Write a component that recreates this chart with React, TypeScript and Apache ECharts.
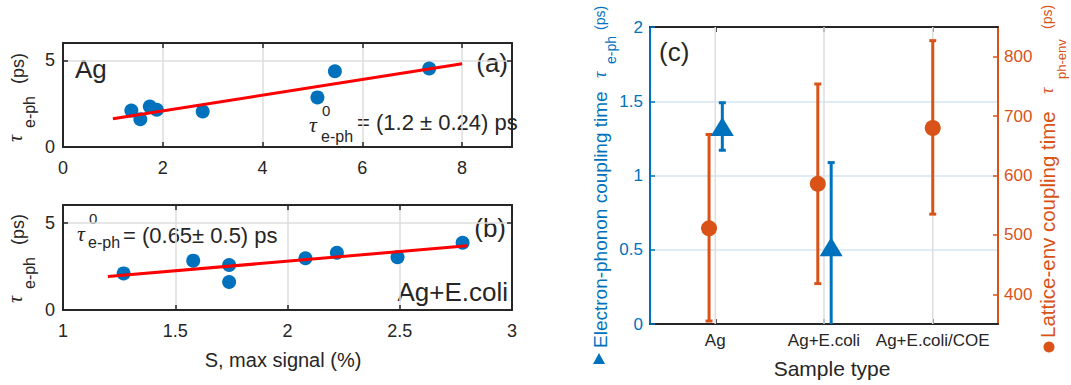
import React, { useEffect, useRef } from 'react';
import * as echarts from 'echarts';

// ---------- data ----------
const agX = [1.37, 1.55, 1.74, 1.88, 2.8, 5.1, 5.45, 7.34];
const agY = [2.1, 1.6, 2.33, 2.15, 2.05, 2.86, 4.37, 4.53];
const agFitX = [1.0, 8.0];
const agFitY = [1.63, 4.8];

const ecX = [1.27, 1.58, 1.74, 1.74, 2.08, 2.22, 2.49, 2.78];
const ecY = [2.09, 2.82, 2.57, 1.6, 2.96, 3.27, 3.02, 3.84];
const ecFitX = [1.2, 2.8];
const ecFitY = [1.91, 3.67];

const sampleTypes = ['Ag', 'Ag+E.coli', 'Ag+E.coli/COE'];
const sampleTicks = [1, 2, 3];
const ephPos = [1.065, 2.066];
const ephVal = [1.33, 0.52];
const ephLow = [1.17, -0.1];
const ephHigh = [1.49, 1.087];
const phenvPos = [0.943, 1.943, 3.0];
const phenvVal = [511, 586, 680];
const phenvLow = [355, 418, 535];
const phenvHigh = [669, 754, 827];

const ticksAX = [0, 2, 4, 6, 8];
const ticksBX = [1, 1.5, 2, 2.5, 3];
const ticksY = [0, 5];
const ticksEph = [0, 0.5, 1, 1.5, 2];
const ticksPhenv = [400, 500, 600, 700, 800];

// ---------- styles ----------
const FONT = '"Liberation Sans", Arial, Helvetica, sans-serif';
const SERIF = '"Liberation Serif", "DejaVu Serif", serif';
const DARK = '#262626';
const BLUE = '#0072BD';
const ORANGE = '#D95319';
const GRIDC = '#dedede';

function frameX(grid: number, pos: 'top' | 'bottom', min: number, max: number, interval: number, ticks: number[], labels: boolean, split: boolean) {
  return {
    type: 'value', gridIndex: grid, position: pos, min, max, interval,
    axisLine: { show: true, onZero: false, lineStyle: { color: DARK, width: 2 } },
    axisTick: { show: true, inside: true, length: 5, customValues: ticks, lineStyle: { color: DARK, width: 1.5 } },
    axisLabel: { show: labels, customValues: ticks, color: DARK, fontSize: 18, fontFamily: FONT, margin: 12 },
    splitLine: { show: split, lineStyle: { color: GRIDC, width: 1.5 } },
  };
}
function frameY(grid: number, pos: 'left' | 'right', labels: boolean, split: boolean) {
  return {
    type: 'value', gridIndex: grid, position: pos, min: 0, max: 6, interval: 5,
    axisLine: { show: true, onZero: false, lineStyle: { color: DARK, width: 2 } },
    axisTick: { show: true, inside: true, length: 5, customValues: ticksY, lineStyle: { color: DARK, width: 1.5 } },
    axisLabel: { show: labels, customValues: ticksY, color: DARK, fontSize: 18, fontFamily: FONT, margin: 8 },
    splitLine: { show: split, lineStyle: { color: GRIDC, width: 1.5 } },
  };
}

function errorBarSeries(xIdx: number, yIdx: number, pos: number[], low: number[], high: number[], color: string) {
  return {
    type: 'custom', xAxisIndex: xIdx, yAxisIndex: yIdx, clip: true, z: 3,
    data: pos.map((p, i) => [p, low[i], high[i]]),
    encode: { x: 0, y: [1, 2] },
    renderItem: (_params: any, api: any) => {
      const x = api.value(0);
      const a = api.coord([x, api.value(1)]);
      const b = api.coord([x, api.value(2)]);
      const st = { stroke: color, lineWidth: 3 };
      const c = 3.5;
      return {
        type: 'group',
        children: [
          { type: 'line', shape: { x1: a[0], y1: a[1], x2: b[0], y2: b[1] }, style: st },
          { type: 'line', shape: { x1: a[0] - c, y1: a[1], x2: a[0] + c, y2: a[1] }, style: st },
          { type: 'line', shape: { x1: b[0] - c, y1: b[1], x2: b[0] + c, y2: b[1] }, style: st },
        ],
      };
    },
  };
}

function txt(text: string, x: number, y: number, size: number, opts: any = {}) {
  const align = opts.align || 'left';
  return {
    type: 'text', x, y, silent: true,
    style: {
      text, fill: opts.color || DARK,
      font: `${opts.italic ? 'italic ' : ''}${size}px ${opts.family || FONT}`,
      textAlign: align, align, textVerticalAlign: 'middle', verticalAlign: 'middle',
    },
  };
}

function rotGroup(x: number, y: number, children: any[]) {
  return { type: 'group', x, y, rotation: Math.PI / 2, children };
}

export default function App() {
  const ref = useRef<HTMLDivElement>(null);
  useEffect(() => {
    if (!ref.current) return;
    const chart = echarts.init(ref.current, undefined, { renderer: 'svg' });
    const option: any = {
      animation: false,
      backgroundColor: '#ffffff',
      grid: [
        { left: 63, top: 43, width: 449, height: 104 },
        { left: 63, top: 205, width: 449, height: 105 },
        { left: 650, top: 27, width: 348, height: 297 },
      ],
      xAxis: [
        frameX(0, 'bottom', 0, 9, 2, ticksAX, true, true),
        frameX(0, 'top', 0, 9, 2, ticksAX, false, false),
        frameX(1, 'bottom', 1, 3, 0.5, ticksBX, true, true),
        frameX(1, 'top', 1, 3, 0.5, ticksBX, false, false),
        {
          type: 'value', gridIndex: 2, position: 'bottom', min: 0.4, max: 3.6,
          axisLine: { show: true, onZero: false, lineStyle: { color: DARK, width: 2 } },
          axisTick: { show: true, inside: true, length: 5, customValues: sampleTicks, lineStyle: { color: DARK, width: 1.5 } },
          axisLabel: {
            show: true, customValues: sampleTicks, color: DARK, fontSize: 17, fontFamily: FONT, margin: 8,
            formatter: (v: number) => sampleTypes[Math.round(v) - 1] || '',
          },
          splitLine: { show: false },
        },
        {
          type: 'value', gridIndex: 2, position: 'top', min: 0.4, max: 3.6,
          axisLine: { show: true, onZero: false, lineStyle: { color: DARK, width: 2 } },
          axisTick: { show: true, inside: true, length: 5, customValues: sampleTicks, lineStyle: { color: DARK, width: 1.5 } },
          axisLabel: { show: false },
          splitLine: { show: false },
        },
      ],
      yAxis: [
        frameY(0, 'left', true, true),
        frameY(0, 'right', false, false),
        frameY(1, 'left', true, true),
        frameY(1, 'right', false, false),
        {
          type: 'value', gridIndex: 2, position: 'left', min: 0, max: 2, interval: 0.5,
          axisLine: { show: true, onZero: false, lineStyle: { color: BLUE, width: 2 } },
          axisTick: { show: true, inside: true, length: 5, customValues: ticksEph, lineStyle: { color: BLUE, width: 1.5 } },
          axisLabel: { show: true, customValues: ticksEph, color: BLUE, fontSize: 17, fontFamily: FONT, margin: 7 },
          splitLine: { show: true, lineStyle: { color: '#d5e6f2', width: 1.5 } },
        },
        {
          type: 'value', gridIndex: 2, position: 'right', min: 350, max: 850,
          axisLine: { show: true, onZero: false, lineStyle: { color: ORANGE, width: 2 } },
          axisTick: { show: true, inside: true, length: 5, customValues: ticksPhenv, lineStyle: { color: ORANGE, width: 1.5 } },
          axisLabel: { show: true, customValues: ticksPhenv, color: ORANGE, fontSize: 17, fontFamily: FONT, margin: 6 },
          splitLine: { show: false },
        },
      ],
      series: [
        // panel (a)
        {
          type: 'line', xAxisIndex: 0, yAxisIndex: 0, z: 3, symbol: 'none',
          data: agFitX.map((x, i) => [x, agFitY[i]]),
          lineStyle: { color: '#ff0000', width: 3 },
        },
        {
          type: 'scatter', xAxisIndex: 0, yAxisIndex: 0, z: 2, symbol: 'circle', symbolSize: 14,
          data: agX.map((x, i) => [x, agY[i]]),
          itemStyle: { color: BLUE, opacity: 1 },
        },
        // panel (b)
        {
          type: 'line', xAxisIndex: 2, yAxisIndex: 2, z: 3, symbol: 'none',
          data: ecFitX.map((x, i) => [x, ecFitY[i]]),
          lineStyle: { color: '#ff0000', width: 3 },
        },
        {
          type: 'scatter', xAxisIndex: 2, yAxisIndex: 2, z: 2, symbol: 'circle', symbolSize: 14,
          data: ecX.map((x, i) => [x, ecY[i]]),
          itemStyle: { color: BLUE, opacity: 1 },
        },
        // panel (c) vertical grid lines at categories
        {
          type: 'custom', xAxisIndex: 4, yAxisIndex: 4, z: 1, silent: true,
          data: sampleTicks.map((t) => [t]),
          encode: { x: 0 },
          renderItem: (_p: any, api: any) => {
            const a = api.coord([api.value(0), 0]);
            const b = api.coord([api.value(0), 2]);
            return { type: 'line', shape: { x1: a[0], y1: a[1], x2: b[0], y2: b[1] }, style: { stroke: GRIDC, lineWidth: 1.5 } };
          },
        },
        errorBarSeries(4, 5, phenvPos, phenvLow, phenvHigh, ORANGE),
        {
          type: 'scatter', xAxisIndex: 4, yAxisIndex: 5, z: 4, symbol: 'circle', symbolSize: 16,
          data: phenvPos.map((x, i) => [x, phenvVal[i]]),
          itemStyle: { color: ORANGE, opacity: 1 },
        },
        errorBarSeries(4, 4, ephPos, ephLow, ephHigh, BLUE),
        {
          type: 'scatter', xAxisIndex: 4, yAxisIndex: 4, z: 5, symbol: 'triangle', symbolSize: [23, 19],
          data: ephPos.map((x, i) => [x, ephVal[i]]),
          itemStyle: { color: BLUE, opacity: 1 },
        },
      ],
      graphic: [
        // y titles (a),(b)
        rotGroup(15, 142, [
          txt('τ', 0, 0, 20, { italic: true, family: SERIF }),
          txt('e-ph', 14, 14, 16),
          txt('(ps)', 58, 3, 18),
        ]),
        rotGroup(15, 303, [
          txt('τ', 0, 0, 20, { italic: true, family: SERIF }),
          txt('e-ph', 14, 14, 16),
          txt('(ps)', 58, 3, 18),
        ]),
        // annotations (a)
        txt('Ag', 75, 69, 26),
        txt('(a)', 508, 63, 26, { align: 'right' }),
        txt('τ', 309, 124, 22, { italic: true, family: SERIF }),
        txt('0', 322, 110, 15),
        txt('e-ph', 321, 136, 16),
        txt('= (1.2 ± 0.24) ps', 357, 122, 22),
        // annotations (b)
        txt('(b)', 506, 228, 26, { align: 'right' }),
        txt('Ag+E.coli', 508, 292, 26, { align: 'right' }),
        txt('τ', 77, 233, 22, { italic: true, family: SERIF }),
        txt('0', 89, 218, 15),
        txt('e-ph', 88, 242, 16),
        txt('= (0.65± 0.5) ps', 123, 235, 22),
        txt('S, max signal (%)', 283, 360, 20, { align: 'center' }),
        // panel (c)
        txt('(c)', 659, 52, 26),
        txt('Sample type', 832, 368, 21, { align: 'center' }),
        rotGroup(600, 348, [
          txt('Electron-phonon coupling time', 0, 0, 19, { color: BLUE }),
          txt('τ', 270, 0, 18, { italic: true, family: SERIF, color: BLUE }),
          txt('e-ph', 284, 11, 14, { color: BLUE }),
          txt('(ps)', 318, 0, 14, { color: BLUE }),
        ]),
        {
          type: 'polygon', silent: true,
          shape: { points: [[593, 364], [605, 364], [599, 353]] },
          style: { fill: BLUE },
        },
        rotGroup(1047, 338, [
          txt('Lattice-env coupling time', 0, 0, 20.5, { color: ORANGE }),
          txt('τ', 244, 0, 18, { italic: true, family: SERIF, color: ORANGE }),
          txt('ph-env', 259, 14, 13, { color: ORANGE }),
          txt('(ps)', 309, 0, 14, { color: ORANGE }),
        ]),
        { type: 'circle', silent: true, shape: { cx: 1049, cy: 347, r: 5.5 }, style: { fill: ORANGE } },
      ],
    };
    chart.setOption(option);
    return () => chart.dispose();
  }, []);
  return <div ref={ref} style={{ position: 'absolute', left: 0, top: 0, width: 1071, height: 385 }} />;
}
